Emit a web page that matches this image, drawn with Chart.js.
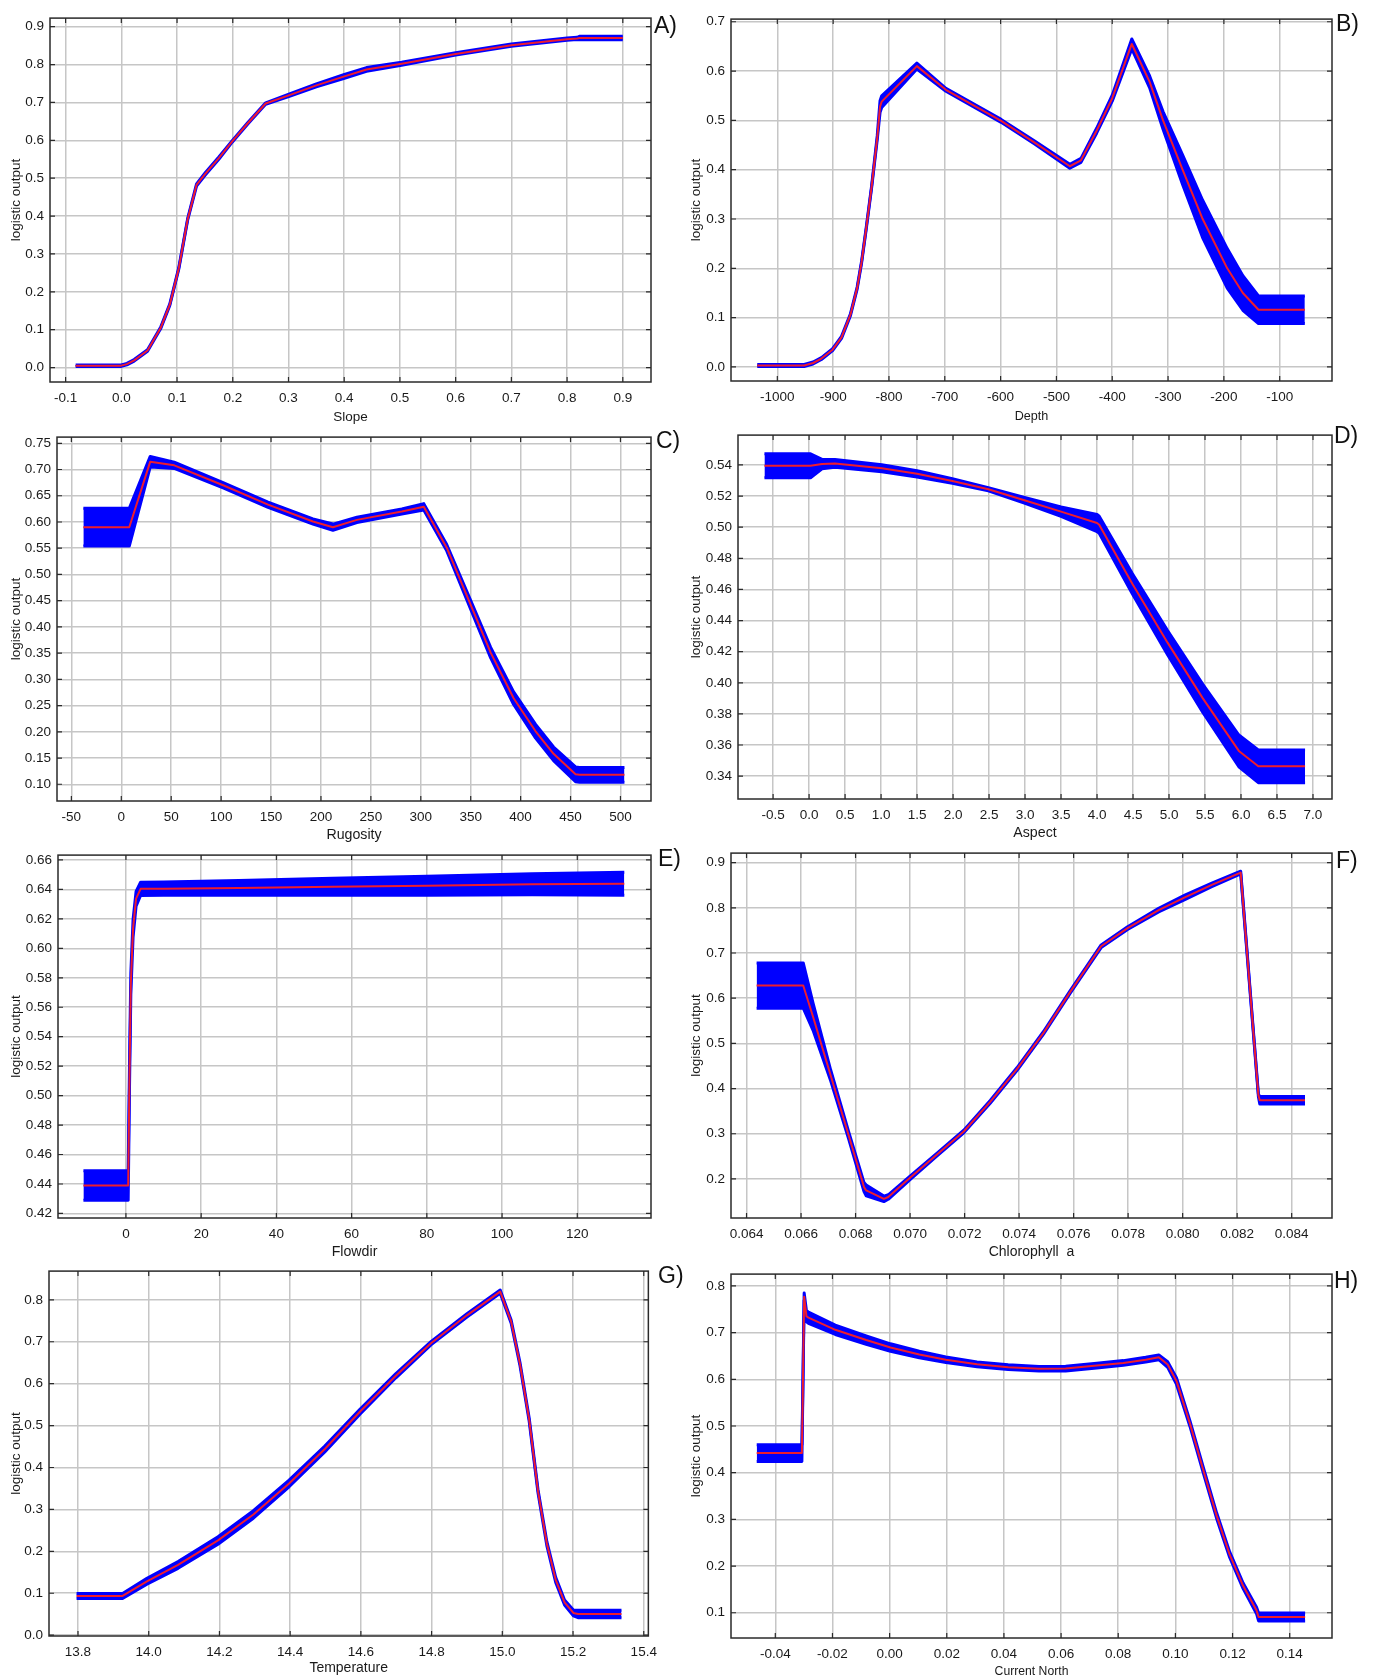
<!DOCTYPE html>
<html lang="en">
<head>
  <meta charset="UTF-8" />
  <title>Response curves</title>
  <script src="https://cdn.jsdelivr.net/npm/chart.js"></script>
  <style>
    html, body { margin: 0; padding: 0; background: #fff; }
    body { position: relative; width: 1375px; height: 1677px; overflow: hidden;
           font-family: "Liberation Sans", Arial, sans-serif; }
    canvas { position: absolute; }
    .tag { position: absolute; font-size: 23px; line-height: 23px; color: #111; z-index: 2; }
  </style>
</head>
<body>
<script>
  // A) Slope
  const slopeX = [-0.082, 0.0, 0.01, 0.023, 0.047, 0.071, 0.087, 0.103, 0.119, 0.135, 0.151, 0.175, 0.199, 0.227, 0.259, 0.303, 0.35, 0.399, 0.44, 0.503, 0.6, 0.7, 0.8, 0.818, 0.822, 0.9];
  const slopeMean = [0.005, 0.005, 0.009, 0.019, 0.045, 0.106, 0.166, 0.261, 0.391, 0.482, 0.512, 0.553, 0.597, 0.645, 0.697, 0.72, 0.745, 0.768, 0.787, 0.802, 0.828, 0.851, 0.867, 0.869, 0.87, 0.87];
  const slopeSpread = [0.002, 0.002, 0.002, 0.002, 0.002, 0.002, 0.002, 0.002, 0.002, 0.003, 0.003, 0.003, 0.002, 0.002, 0.002, 0.003, 0.004, 0.005, 0.005, 0.004, 0.003, 0.003, 0.003, 0.003, 0.0045, 0.0045];
  const slopeXTicks = [-0.1, 0, 0.1, 0.2, 0.3, 0.4, 0.5, 0.6, 0.7, 0.8, 0.9];
  const slopeYTicks = [0, 0.1, 0.2, 0.3, 0.4, 0.5, 0.6, 0.7, 0.8, 0.9];

  // B) Depth
  const depthX = [-1036, -952, -936, -921, -901, -885, -869, -857, -849, -841, -831, -821, -816, -813, -750, -698, -599, -539, -476, -456, -428, -400, -365, -333, -309, -274, -238, -194, -166, -138, -55];
  const depthMean = [0.003, 0.003, 0.008, 0.017, 0.035, 0.06, 0.106, 0.16, 0.213, 0.279, 0.366, 0.465, 0.528, 0.538, 0.61, 0.562, 0.499, 0.455, 0.407, 0.419, 0.479, 0.545, 0.655, 0.578, 0.5, 0.4, 0.3, 0.2, 0.15, 0.116, 0.116];
  const depthSpread = [0.002, 0.002, 0.002, 0.002, 0.002, 0.002, 0.002, 0.002, 0.002, 0.002, 0.002, 0.004, 0.012, 0.012, 0.006, 0.003, 0.003, 0.003, 0.004, 0.004, 0.005, 0.006, 0.01, 0.012, 0.018, 0.03, 0.038, 0.04, 0.035, 0.028, 0.028];
  const depthXTicks = [-1000, -900, -800, -700, -600, -500, -400, -300, -200, -100];
  const depthYTicks = [0, 0.1, 0.2, 0.3, 0.4, 0.5, 0.6, 0.7];

  // C) Rugosity
  const rugX = [-38, 8, 29, 53, 102, 147, 192, 212, 236, 281, 303, 326, 348, 370, 393, 415, 433, 455, 459, 504];
  const rugMean = [0.59, 0.59, 0.715, 0.708, 0.67, 0.633, 0.601, 0.59, 0.604, 0.62, 0.629, 0.551, 0.451, 0.351, 0.264, 0.201, 0.158, 0.119, 0.118, 0.118];
  const rugSpread = [0.036, 0.036, 0.01, 0.006, 0.005, 0.005, 0.005, 0.006, 0.005, 0.005, 0.006, 0.006, 0.008, 0.01, 0.012, 0.013, 0.013, 0.014, 0.014, 0.014];
  const rugXTicks = [-50, 0, 50, 100, 150, 200, 250, 300, 350, 400, 450, 500];
  const rugYTicks = [0.10, 0.15, 0.20, 0.25, 0.30, 0.35, 0.40, 0.45, 0.50, 0.55, 0.60, 0.65, 0.70, 0.75];

  // D) Aspect
  const aspX = [-0.62, 0.02, 0.18, 0.36, 1.01, 1.5, 1.99, 2.49, 2.98, 3.5, 4.0, 4.03, 4.49, 4.98, 5.47, 5.97, 6.24, 6.89];
  const aspMean = [0.5395, 0.5395, 0.5406, 0.541, 0.5379, 0.5343, 0.5297, 0.5244, 0.5175, 0.51, 0.5027, 0.5016, 0.4637, 0.4258, 0.39, 0.3562, 0.3463, 0.3463];
  const aspSpread = [0.0077, 0.0077, 0.003, 0.0025, 0.0022, 0.002, 0.0015, 0.001, 0.0018, 0.003, 0.0055, 0.0055, 0.0065, 0.0078, 0.009, 0.0102, 0.0105, 0.0105];
  const aspXTicks = [-0.5, 0, 0.5, 1, 1.5, 2, 2.5, 3, 3.5, 4, 4.5, 5, 5.5, 6, 6.5, 7];
  const aspYTicks = [0.34, 0.36, 0.38, 0.40, 0.42, 0.44, 0.46, 0.48, 0.50, 0.52, 0.54];

  // E) Flowdir
  const flowX = [-11.3, 0.6, 0.95, 1.3, 1.9, 2.7, 3.9, 10, 30, 55, 80, 108, 132.5];
  const flowMean = [0.4389, 0.4389, 0.5135, 0.5758, 0.6137, 0.6337, 0.6404, 0.6405, 0.641, 0.6418, 0.6425, 0.6435, 0.6438];
  const flowSpread = [0.01, 0.01, 0.008, 0.007, 0.006, 0.005, 0.0045, 0.0045, 0.005, 0.0057, 0.0064, 0.0072, 0.0078];
  const flowXTicks = [0, 20, 40, 60, 80, 100, 120];
  const flowYTicks = [0.42, 0.44, 0.46, 0.48, 0.50, 0.52, 0.54, 0.56, 0.58, 0.60, 0.62, 0.64, 0.66];

  // F) Chlorophyll a
  const chlX = [0.06437, 0.06608, 0.06644, 0.06709, 0.06774, 0.06831, 0.06839, 0.06904, 0.0692, 0.07002, 0.07099, 0.07197, 0.07294, 0.07392, 0.07489, 0.07587, 0.07701, 0.07798, 0.07912, 0.0801, 0.08107, 0.08213, 0.08278, 0.08283, 0.08449];
  const chlMean = [0.628, 0.628, 0.559, 0.4285, 0.298, 0.182, 0.1746, 0.156, 0.16, 0.2036, 0.254, 0.305, 0.3705, 0.443, 0.5228, 0.6135, 0.715, 0.755, 0.7948, 0.8238, 0.8507, 0.878, 0.385, 0.374, 0.374];
  const chlSpread = [0.05, 0.05, 0.03, 0.012, 0.008, 0.01, 0.012, 0.006, 0.005, 0.004, 0.003, 0.003, 0.003, 0.003, 0.003, 0.003, 0.003, 0.003, 0.004, 0.005, 0.004, 0.003, 0.003, 0.0083, 0.0083];
  const chlXTicks = [0.064, 0.066, 0.068, 0.070, 0.072, 0.074, 0.076, 0.078, 0.080, 0.082, 0.084];
  const chlYTicks = [0.2, 0.3, 0.4, 0.5, 0.6, 0.7, 0.8, 0.9];

  // G) Temperature
  const tempX = [13.796, 13.926, 13.995, 14.083, 14.196, 14.296, 14.397, 14.498, 14.598, 14.699, 14.799, 14.9, 14.994, 15.025, 15.05, 15.076, 15.101, 15.126, 15.151, 15.176, 15.201, 15.214, 15.337];
  const tempMean = [0.0935, 0.0935, 0.1285, 0.1675, 0.226, 0.288, 0.362, 0.444, 0.5336, 0.619, 0.697, 0.763, 0.8195, 0.748, 0.6466, 0.514, 0.343, 0.218, 0.132, 0.078, 0.053, 0.0506, 0.0506];
  const tempSpread = [0.006, 0.006, 0.007, 0.008, 0.009, 0.009, 0.008, 0.007, 0.006, 0.005, 0.004, 0.004, 0.004, 0.004, 0.004, 0.004, 0.004, 0.005, 0.006, 0.006, 0.007, 0.009, 0.009];
  const tempXTicks = [13.8, 14.0, 14.2, 14.4, 14.6, 14.8, 15.0, 15.2, 15.4];
  const tempYTicks = [0, 0.1, 0.2, 0.3, 0.4, 0.5, 0.6, 0.7, 0.8];

  // H) Current North
  const curX = [-0.0465, -0.0307, -0.0304, -0.0299, -0.0291, -0.0284, -0.019, -0.0082, 0.0003, 0.0104, 0.0197, 0.0306, 0.0415, 0.0523, 0.0616, 0.0725, 0.0818, 0.0896, 0.0942, 0.0973, 0.1004, 0.1051, 0.1097, 0.1144, 0.119, 0.1237, 0.1284, 0.1291, 0.1454];
  const curMean = [0.442, 0.442, 0.561, 0.777, 0.735, 0.732, 0.706, 0.684, 0.668, 0.653, 0.642, 0.632, 0.626, 0.6225, 0.623, 0.6294, 0.635, 0.642, 0.647, 0.6315, 0.596, 0.505, 0.4068, 0.3085, 0.2243, 0.1576, 0.1049, 0.0909, 0.0909];
  const curSpread = [0.018, 0.018, 0.006, 0.008, 0.012, 0.012, 0.01, 0.009, 0.008, 0.007, 0.006, 0.005, 0.005, 0.005, 0.005, 0.005, 0.005, 0.005, 0.005, 0.006, 0.007, 0.006, 0.006, 0.006, 0.006, 0.006, 0.007, 0.0084, 0.0084];
  const curXTicks = [-0.04, -0.02, 0, 0.02, 0.04, 0.06, 0.08, 0.10, 0.12, 0.14];
  const curYTicks = [0.1, 0.2, 0.3, 0.4, 0.5, 0.6, 0.7, 0.8];

  // layout of the 8 panels (plot box = left, top, right, bottom in page px)
  const panels = [
    { tag: 'A)', col: 0,   box: [50, 12, 651, 382],     xr: [-0.128, 0.9506],   yr: [-0.0382, 0.9226], xd: 1, yd: 1, title: 'Slope',          ts: 13.5, xh: 43, tagPos: [654, 25],
      x: slopeX, mean: slopeMean, spread: slopeSpread, xt: slopeXTicks, yt: slopeYTicks },
    { tag: 'B)', col: 680, box: [731, 13, 1332, 381],   xr: [-1083, -6.3],      yr: [-0.0285, 0.7054], xd: 0, yd: 1, title: 'Depth',          ts: 12.6, xh: 43, tagPos: [1336, 23],
      x: depthX, mean: depthMean, spread: depthSpread, xt: depthXTicks, yt: depthYTicks },
    { tag: 'C)', col: 0,   box: [57, 431, 651, 801],    xr: [-64.4, 530.6],     yr: [0.0681, 0.7618],  xd: 0, yd: 2, title: 'Rugosity',       ts: 14.2, xh: 43, tagPos: [656, 440],
      x: rugX, mean: rugMean, spread: rugSpread, xt: rugXTicks, yt: rugYTicks },
    { tag: 'D)', col: 680, box: [738, 429, 1332, 799],  xr: [-0.9875, 7.264],   yr: [0.3253, 0.5592],  xd: 1, yd: 2, title: 'Aspect',         ts: 14.2, xh: 43, tagPos: [1334, 435],
      x: aspX, mean: aspMean, spread: aspSpread, xt: aspXTicks, yt: aspYTicks },
    { tag: 'E)', col: 0,   box: [58, 849, 651, 1218],   xr: [-18.06, 139.6],    yr: [0.4169, 0.6633],  xd: 0, yd: 2, title: 'Flowdir',        ts: 14.2, xh: 43, tagPos: [658, 858],
      x: flowX, mean: flowMean, spread: flowSpread, xt: flowXTicks, yt: flowYTicks },
    { tag: 'F)', col: 680, box: [731, 847, 1332, 1218], xr: [0.06343, 0.08548], yr: [0.1136, 0.9211],  xd: 3, yd: 1, title: 'Chlorophyll  a', ts: 14,   xh: 43, tagPos: [1336, 860],
      x: chlX, mean: chlMean, spread: chlSpread, xt: chlXTicks, yt: chlYTicks },
    { tag: 'G)', col: 0,   box: [49, 1265, 651, 1636],  xr: [13.718, 15.413],   yr: [-0.002, 0.8685],  xd: 1, yd: 1, title: 'Temperature',    ts: 14,   xh: 41, tagPos: [658, 1275],
      x: tempX, mean: tempMean, spread: tempSpread, xt: tempXTicks, yt: tempYTicks },
    { tag: 'H)', col: 680, box: [731, 1268, 1332, 1638], xr: [-0.0555, 0.1548], yr: [0.0459, 0.8253], xd: 2, yd: 1, title: 'Current North',  ts: 12.2, xh: 41, tagPos: [1334, 1280],
      x: curX, mean: curMean, spread: curSpread, xt: curXTicks, yt: curYTicks }
  ];

  Chart.defaults.font.family = '"Liberation Sans", Arial, sans-serif';
  Chart.defaults.color = '#1a1a1a';

  const BLUE = '#0000ff';
  const RED = '#ee1c2e';
  const GRID = '#c6c6c6';

  // box frame with small inward tick marks, like the original plots
  const framePlugin = {
    id: 'frame',
    afterDraw(chart) {
      const { ctx, chartArea: a, scales } = chart;
      ctx.save();
      ctx.strokeStyle = '#2a2a2a';
      ctx.lineWidth = 1.5;
      ctx.strokeRect(a.left, a.top, a.right - a.left, a.bottom - a.top);
      ctx.lineWidth = 1.2;
      ctx.beginPath();
      scales.x.ticks.forEach(t => {
        const px = scales.x.getPixelForValue(t.value);
        ctx.moveTo(px, a.bottom); ctx.lineTo(px, a.bottom - 5);
        ctx.moveTo(px, a.top); ctx.lineTo(px, a.top + 5);
      });
      scales.y.ticks.forEach(t => {
        const py = scales.y.getPixelForValue(t.value);
        ctx.moveTo(a.left, py); ctx.lineTo(a.left + 5, py);
        ctx.moveTo(a.right, py); ctx.lineTo(a.right - 5, py);
      });
      ctx.stroke();
      ctx.restore();
    }
  };

  function addPanel(p) {
    const [l, t, r, b] = p.box;
    const padTop = 8, padRight = 14;
    const yw = l - p.col;
    const cw = r + padRight - p.col;
    const ch = (b - t) + padTop + p.xh;

    const cv = document.createElement('canvas');
    cv.width = cw; cv.height = ch;
    cv.style.left = p.col + 'px';
    cv.style.top = (t - padTop) + 'px';
    cv.style.width = cw + 'px';
    cv.style.height = ch + 'px';
    document.body.appendChild(cv);

    const pts = sign => p.x.map((v, i) => ({ x: v, y: p.mean[i] + sign * p.spread[i] }));

    new Chart(cv, {
      type: 'line',
      data: {
        datasets: [
          { data: pts(0), borderColor: RED, borderWidth: 2, pointRadius: 0, fill: false, order: 0 },
          { data: pts(1), borderColor: BLUE, borderWidth: 3, pointRadius: 0, fill: false, order: 1 },
          { data: pts(-1), borderColor: BLUE, borderWidth: 3, pointRadius: 0, fill: '-1', backgroundColor: BLUE, order: 2 }
        ]
      },
      options: {
        responsive: false,
        animation: false,
        devicePixelRatio: 1,
        layout: { padding: { left: 0, top: padTop, right: padRight, bottom: 0 } },
        plugins: { legend: { display: false }, tooltip: { enabled: false } },
        elements: { line: { tension: 0, borderJoinStyle: 'round', borderCapStyle: 'butt' } },
        scales: {
          x: {
            type: 'linear', min: p.xr[0], max: p.xr[1], bounds: 'data',
            afterBuildTicks: s => { s.ticks = p.xt.map(v => ({ value: v })); },
            afterFit: s => { s.height = p.xh; },
            grid: { color: GRID, lineWidth: 1.5, drawTicks: false },
            border: { display: false },
            ticks: { autoSkip: false, maxRotation: 0, padding: 8, font: { size: 13.5 },
                     callback: v => Number(v).toFixed(p.xd) },
            title: { display: true, text: p.title, font: { size: p.ts }, padding: { top: 0, bottom: 0 } }
          },
          y: {
            type: 'linear', min: p.yr[0], max: p.yr[1], bounds: 'data',
            afterBuildTicks: s => { s.ticks = p.yt.map(v => ({ value: v })); },
            afterFit: s => { s.width = yw; },
            grid: { color: GRID, lineWidth: 1.5, drawTicks: false },
            border: { display: false },
            ticks: { autoSkip: false, padding: 6, font: { size: 13.5 },
                     callback: v => Number(v).toFixed(p.yd) },
            title: { display: true, text: 'logistic output', font: { size: 13.5 }, padding: { top: 8, bottom: 0 } }
          }
        }
      },
      plugins: [framePlugin]
    });

    const tag = document.createElement('div');
    tag.className = 'tag';
    tag.textContent = p.tag;
    tag.style.left = p.tagPos[0] + 'px';
    tag.style.top = (p.tagPos[1] - 11.5) + 'px';
    document.body.appendChild(tag);
  }

  panels.forEach(addPanel);
</script>
</body>
</html>
